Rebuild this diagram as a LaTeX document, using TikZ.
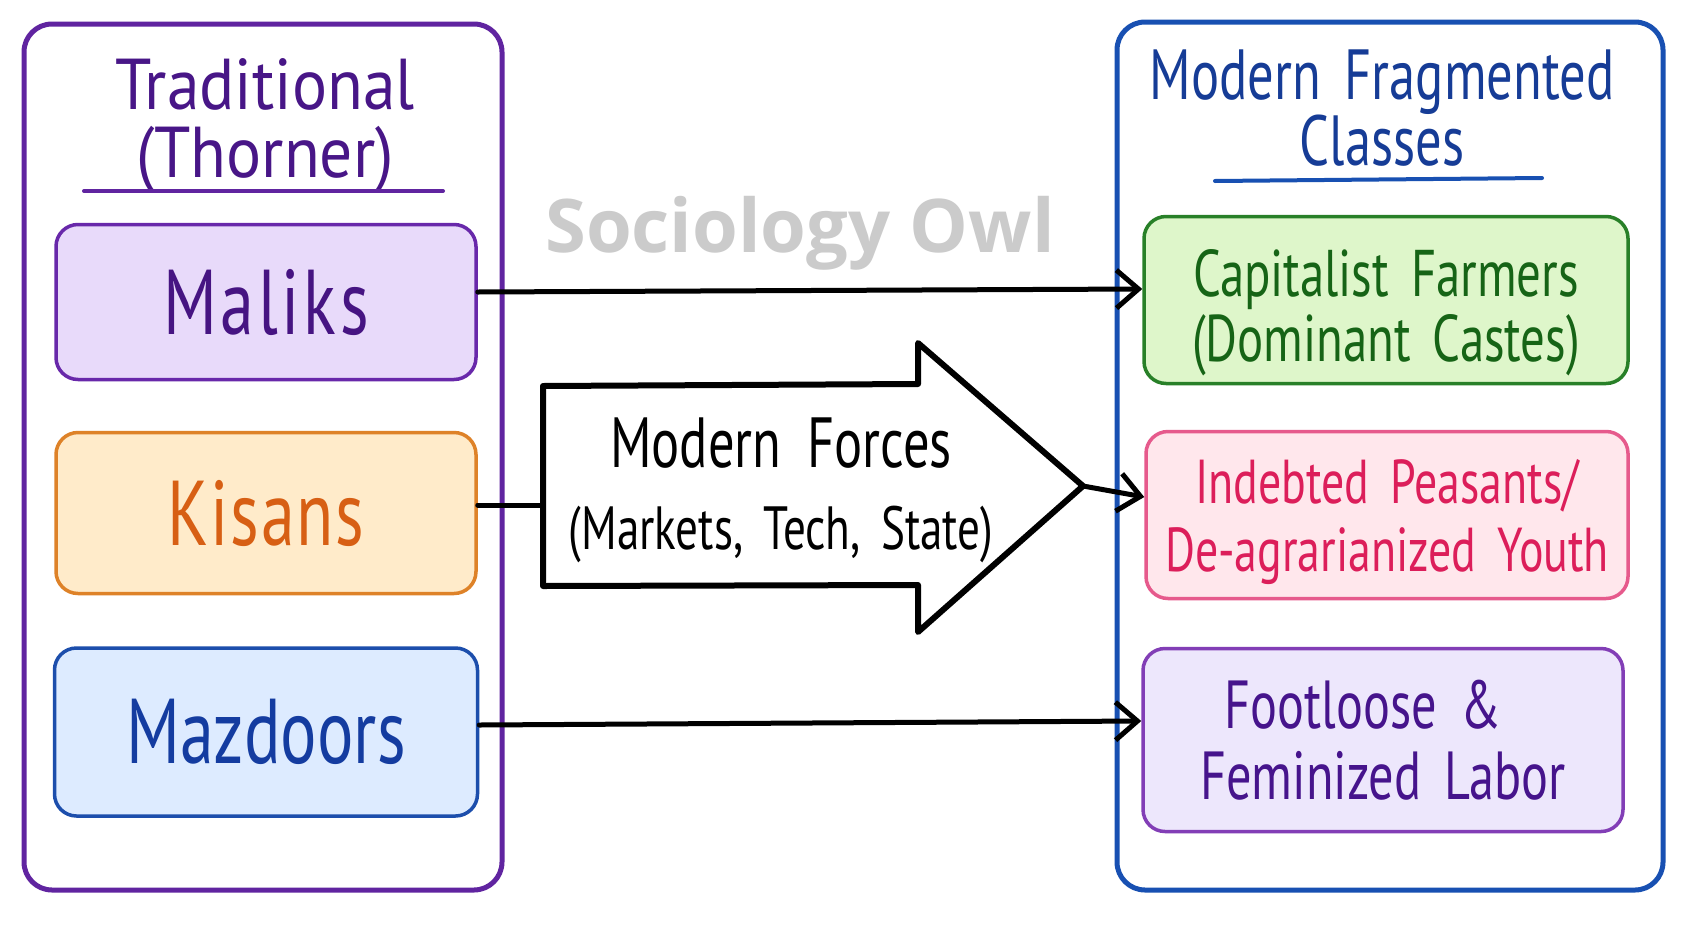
\documentclass[tikz,border=0pt]{standalone}
\usepackage{fontspec}
\setmainfont{PT Sans}[FakeStretch=0.74,WordSpace=1.7]
\newfontfamily\widefont{PT Sans}[FakeStretch=0.91,WordSpace=1.5]
\newfontfamily\wmfont{Open Sans}
\usetikzlibrary{arrows.meta,calc}
\definecolor{tradline}{RGB}{96,36,160}
\definecolor{tradtxt}{RGB}{72,22,135}
\definecolor{modline}{RGB}{24,80,178}
\definecolor{modtxt}{RGB}{22,60,150}
\definecolor{malfill}{RGB}{232,218,250}
\definecolor{malline}{RGB}{104,40,170}
\definecolor{maltxt}{RGB}{70,20,130}
\definecolor{kisfill}{RGB}{255,235,202}
\definecolor{kisline}{RGB}{222,130,40}
\definecolor{kistxt}{RGB}{215,95,20}
\definecolor{mazfill}{RGB}{221,235,255}
\definecolor{mazline}{RGB}{28,78,172}
\definecolor{maztxt}{RGB}{20,60,160}
\definecolor{capfill}{RGB}{222,246,202}
\definecolor{capline}{RGB}{40,128,40}
\definecolor{captxt}{RGB}{22,100,22}
\definecolor{indfill}{RGB}{255,231,236}
\definecolor{indline}{RGB}{230,90,140}
\definecolor{indtxt}{RGB}{220,30,90}
\definecolor{footfill}{RGB}{237,231,252}
\definecolor{footline}{RGB}{130,62,182}
\definecolor{foottxt}{RGB}{70,20,140}
\definecolor{wmgray}{RGB}{203,203,203}
\tikzset{
  outerbox/.style={draw, line width=5pt, rounded corners=28pt, inner sep=0pt},
  classbox/.style={draw, line width=3.5pt, rounded corners=22pt, inner sep=0pt},
  bigword/.style={font=\fontsize{92}{92}\selectfont},
  conn/.style={line width=5pt, line cap=round, -{Straight Barb[length=22pt,width=38pt,line width=5pt]}},
  plainconn/.style={line width=5pt, line cap=round},
  rule/.style={line width=4pt, line cap=round},
}
\begin{document}
\begin{tikzpicture}[x=1pt,y=-1pt]
\useasboundingbox (0,0) rectangle (1693,929);
\fill[white] (0,0) rectangle (1693,929);

% outer containers
\node[outerbox, draw=tradline, minimum width=478pt, minimum height=866pt] (trad) at (263,457) {};
\node[outerbox, draw=modline, minimum width=546pt, minimum height=868pt] (mod) at (1390,456) {};

% titles
\node[align=center, text=tradtxt, font=\widefont\fontsize{72}{68}\selectfont] (tradtitle) at (265,126) {Traditional\\(Thorner)};
\draw[rule, draw=tradline] (84,191) -- (443,191);
\node[align=center, text=modtxt, font=\fontsize{71}{62}\selectfont] (modtitle) at (1382,108) {Modern Fragmented\\Classes};
\draw[rule, draw=modline] (1215,181) -- (1542,178);

% watermark
\node[text=wmgray, font=\wmfont\bfseries\fontsize{74}{74}\selectfont] (wm) at (800,233) {Sociology Owl};

% traditional classes
\node[classbox, draw=malline, fill=malfill, text=maltxt, minimum width=420pt, minimum height=155pt,
      bigword] (maliks) at (266,302) {\addfontfeature{LetterSpace=4}Maliks};
\node[classbox, draw=kisline, fill=kisfill, text=kistxt, minimum width=420pt, minimum height=161pt,
      bigword] (kisans) at (266,513) {\addfontfeature{LetterSpace=2}Kisans};
\node[classbox, draw=mazline, fill=mazfill, text=maztxt, minimum width=423pt, minimum height=168pt,
      bigword] (mazdoors) at (266,732) {Mazdoors};

% modern classes (boxes)
\node[classbox, draw=capline, fill=capfill, minimum width=484pt, minimum height=167pt] (capital) at (1386,300) {};
\node[classbox, draw=indline, fill=indfill, minimum width=482pt, minimum height=167pt] (indebted) at (1387,515) {};
\node[classbox, draw=footline, fill=footfill, minimum width=480pt, minimum height=183pt] (footloose) at (1383,740) {};
% modern classes (texts)
\node[align=center, text=captxt, font=\fontsize{66}{65}\selectfont] (capitaltxt) at (1386,313) {Capitalist Farmers\\(Dominant Castes)};
\node[align=center, text=indtxt, font=\fontsize{62}{68}\selectfont] (indebtedtxt) at (1387,522) {Indebted Peasants/\\De-agrarianized Youth};
\node[align=center, text=foottxt, font=\fontsize{68}{71}\selectfont] (footloosetxt) at (1383,740) {Footloose \&\rule{40pt}{0pt}\\Feminized Labor};

% big arrow
\coordinate (fleft) at (543,505);
\coordinate (ftip) at (1083,486);
\draw[line width=6pt, line join=round, fill=white]
  (543,386) -- (918,384) -- (918,343) -- (ftip) -- (918,632) -- (918,585) -- (543,586) -- cycle;
\node[align=center, font=\fontsize{71}{82}\selectfont] (forces) at (781,490) {Modern\hspace{26pt}Forces\\{\fontsize{61}{61}\selectfont(Markets, Tech, State)}};

% connectors
\draw[conn] ([yshift=10pt]maliks.east) -- ([yshift=11pt]capital.west);
\draw[plainconn] ([yshift=8pt]kisans.east) -- (fleft);
\draw[conn] (ftip) -- ([yshift=18pt]indebted.west);
\draw[conn] ([yshift=7pt]mazdoors.east) -- ([yshift=19pt]footloose.west);
\end{tikzpicture}
\end{document}
